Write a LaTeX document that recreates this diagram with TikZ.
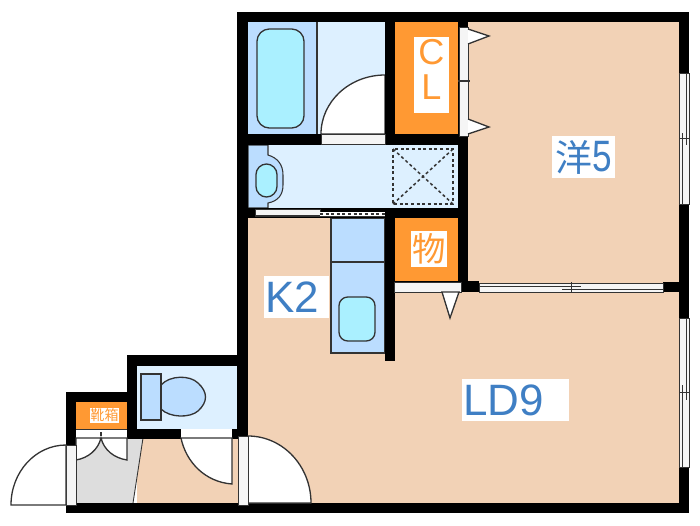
\documentclass[tikz,border=0pt]{standalone}
\usepackage{fontspec}
\setmainfont{Liberation Sans}
\newfontfamily\cjkfont{Noto Sans CJK JP}
\definecolor{floorpeach}{HTML}{F2D2B6}
\definecolor{closetorange}{HTML}{FF9933}
\definecolor{wetlight}{HTML}{DDF0FF}
\definecolor{wetblue}{HTML}{BBDDFF}
\definecolor{wetcyan}{HTML}{AAF0FF}
\definecolor{entrygray}{HTML}{DDDDDD}
\definecolor{labelblue}{HTML}{3F7FC4}
\definecolor{fixline}{HTML}{333333}
\tikzset{
	wall/.style={fill=black, draw=none},
	opening/.style={fill=white!96!black, draw=fixline, line width=0.55pt},
	fixture/.style={draw=fixline, line width=0.75pt},
	hatch/.style={dash pattern=on 1.7pt off 1.5pt, draw=fixline, line width=0.85pt},
	roomlabel/.style={fill=white, text=labelblue, font=\fontsize{25}{25}\selectfont, inner sep=0pt, minimum height=0.84cm},
	closetlabel/.style={fill=white, text=closetorange, inner sep=0pt, align=center},
}
\begin{document}
\begin{tikzpicture}[x=0.02cm, y=-0.02cm]
	\useasboundingbox (0,0) rectangle (700,525);
	% floors
	\fill[floorpeach] (468,22) rectangle (680,283);
	\fill[floorpeach] (248,218) rectangle (680,503);
	\fill[floorpeach] (137,438) rectangle (238,503);
	\fill[entrygray] (76,438) -- (143,438) -- (133,503) -- (76,503) -- cycle;
	\draw[fixline, line width=0.5pt] (143,438) -- (133,503);
	\fill[wetlight] (248,145) rectangle (458,208);
	\fill[wetlight] (317,22) rectangle (385,134);
	\fill[wetlight] (137,366) rectangle (238,429);
	\fill[closetorange] (395,22) rectangle (458,134);
	\fill[closetorange] (395,218) rectangle (458,282);
	\fill[closetorange] (76,402) rectangle (127,429);
	% bath
	\fill[wetblue] (248,22) rectangle (317,134);
	\draw[fixline, line width=0.6pt] (317,22) -- (317,134);
	\draw[fixture, fill=wetcyan, rounded corners=7pt] (257,29) rectangle (304,128);
	\draw[fixture, fill=white] (385,75) arc[start angle=-90, end angle=-180, x radius=64, y radius=59] -- (385,134) -- cycle;
	% washbasin
	\draw[fill=wetblue, draw=fixline, line width=0.6pt] (248,145) -- (268,145) -- (268,155) .. controls (278,158) and (283,165) .. (283,175) -- (283,185) .. controls (283,195) and (278,201) .. (268,203) -- (268,208) -- (248,208) -- cycle;
	\draw[fixture, fill=wetcyan, rounded corners=6pt] (256,164) rectangle (277,197);
	% unit under the floor hatch
	\draw[hatch] (393,149) rectangle (453,204);
	\draw[hatch] (393,149) -- (453,204);
	\draw[hatch] (453,149) -- (393,204);
	% kitchen
	\draw[fill=wetblue, draw=fixline, line width=0.6pt] (331,218) rectangle (385,353);
	\draw[fixture] (331,262) -- (385,262);
	\draw[fixture, fill=wetcyan, rounded corners=5pt] (339,297) rectangle (375,341);
	% toilet
	\draw[fixture, fill=wetblue] (161,385) .. controls (170,375) and (190,375) .. (198,383) .. controls (208,392) and (208,402) .. (198,411) .. controls (190,418) and (170,418) .. (161,409) -- cycle;
	\draw[fixture, fill=wetblue] (141,374) rectangle (161,420);
	% walls
	\fill[wall] (237,12) rectangle (689,22);
	\fill[wall] (237,12) rectangle (248,438);
	\fill[wall] (679,12) rectangle (689,512);
	\fill[wall] (385,12) rectangle (395,134);
	\fill[wall] (248,134) rectangle (468,145);
	\fill[wall] (458,12) rectangle (468,292);
	\fill[wall] (248,208) rectangle (468,218);
	\fill[wall] (385,208) rectangle (395,361);
	\fill[wall] (395,281) rectangle (479,292);
	\fill[wall] (663,282) rectangle (689,292);
	\fill[wall] (127,355) rectangle (248,366);
	\fill[wall] (127,355) rectangle (137,438);
	\fill[wall] (127,429) rectangle (238,439);
	\fill[wall] (66,392) rectangle (137,402);
	\fill[wall] (66,392) rectangle (76,445);
	\fill[wall] (66,503) rectangle (689,513);
	% openings
	\draw[opening] (321,134) rectangle (385,144);
	\draw[opening] (459,27) rectangle (468,136);
	\draw[fixline, line width=0.6pt] (458,81) -- (470,81);
	\draw[fixture, fill=white] (468,29) -- (489,36) -- (468,44);
	\draw[fixture, fill=white] (468,119) -- (489,127) -- (468,134);
	\draw[opening] (255,209) rectangle (320,215);
	\fill[white] (320,212) rectangle (385,217);
	\draw[fixline, line width=0.55pt] (255,216.5) -- (385,216.5);
	\draw[hatch] (320,214) -- (385,214);
	\draw[opening] (394,282) rectangle (461,292);
	\draw[fixture, fill=white] (442,292) -- (459,292) -- (450,318) -- cycle;
	\draw[opening] (479,283) rectangle (663,292);
	\draw[fixline, line width=0.55pt] (479,286) -- (581,286);
	\draw[fixline, line width=0.55pt] (562,289) -- (663,289);
	\draw[fixline, line width=0.55pt] (571,282) -- (571,293);
	\draw[opening] (679.5,73) rectangle (689,204);
	\draw[fixline, line width=0.55pt] (686,73) -- (686,145);
	\draw[fixline, line width=0.55pt] (682,133) -- (682,204);
	\draw[fixline, line width=0.55pt] (679,138) -- (689,138);
	\draw[opening] (679.5,318) rectangle (689,467);
	\draw[fixline, line width=0.55pt] (686,318) -- (686,400);
	\draw[fixline, line width=0.55pt] (682,385) -- (682,467);
	\draw[fixline, line width=0.55pt] (679,392) -- (689,392);
	% entrance and doors
	\fill[white] (76,429) rectangle (127,438);
	\draw[fixline, line width=0.55pt] (76,429) -- (127,429);
	\draw[fixline, line width=0.55pt] (76,438) -- (127,438);
	\draw[fixline, line width=0.8pt] (101,432) -- (101,436);
	\fill[white] (181,429) rectangle (232,439);
	\draw[fixture, fill=white] (76,438) -- (76,460) .. controls (88,458) and (98,450) .. (101,438) .. controls (104,450) and (114,458) .. (127,460) -- (127,438) -- cycle;
	\draw[fixture, fill=white] (181,438) .. controls (186,462) and (205,482) .. (232,484) -- (232,438) -- cycle;
	\draw[opening] (66,445) rectangle (76,505);
	\draw[fixture, fill=white] (66,445) arc[start angle=-90, end angle=-180, x radius=55, y radius=60] -- (66,505) -- cycle;
	\draw[fixture, fill=white] (248,436) arc[start angle=-90, end angle=0, x radius=63, y radius=67] -- (248,503) -- cycle;
	\draw[opening] (238,436) rectangle (248,505);
	% labels
	\fill[white] (414,37) rectangle (449,113);
	\node[closetlabel, fill=none, font=\fontsize{20.5}{20}\selectfont] (clLabel) at (431.5,69.5) {C\\L};
	\node[closetlabel, minimum width=0.72cm, minimum height=0.72cm, font=\cjkfont\fontsize{19}{19}\selectfont] (storeLabel) at (429,249) {物};
	\node[closetlabel, minimum width=0.58cm, minimum height=0.3cm, font=\cjkfont\fontsize{8}{8}\selectfont] (shoeLabel) at (104.5,415.5) {靴箱};
	\node[roomlabel, minimum width=1.26cm] (westernLabel) at (583.5,157) {{\cjkfont\fontsize{21}{21}\selectfont 洋}\scalebox{0.8}[1]{5}};
	\node[roomlabel, minimum width=1.3cm] (kitchenLabel) at (296.5,297) {K2\kern0.18cm};
	\node[roomlabel, minimum width=2.14cm] (livingLabel) at (515.5,400) {LD9\kern0.48cm};
\end{tikzpicture}
\end{document}
